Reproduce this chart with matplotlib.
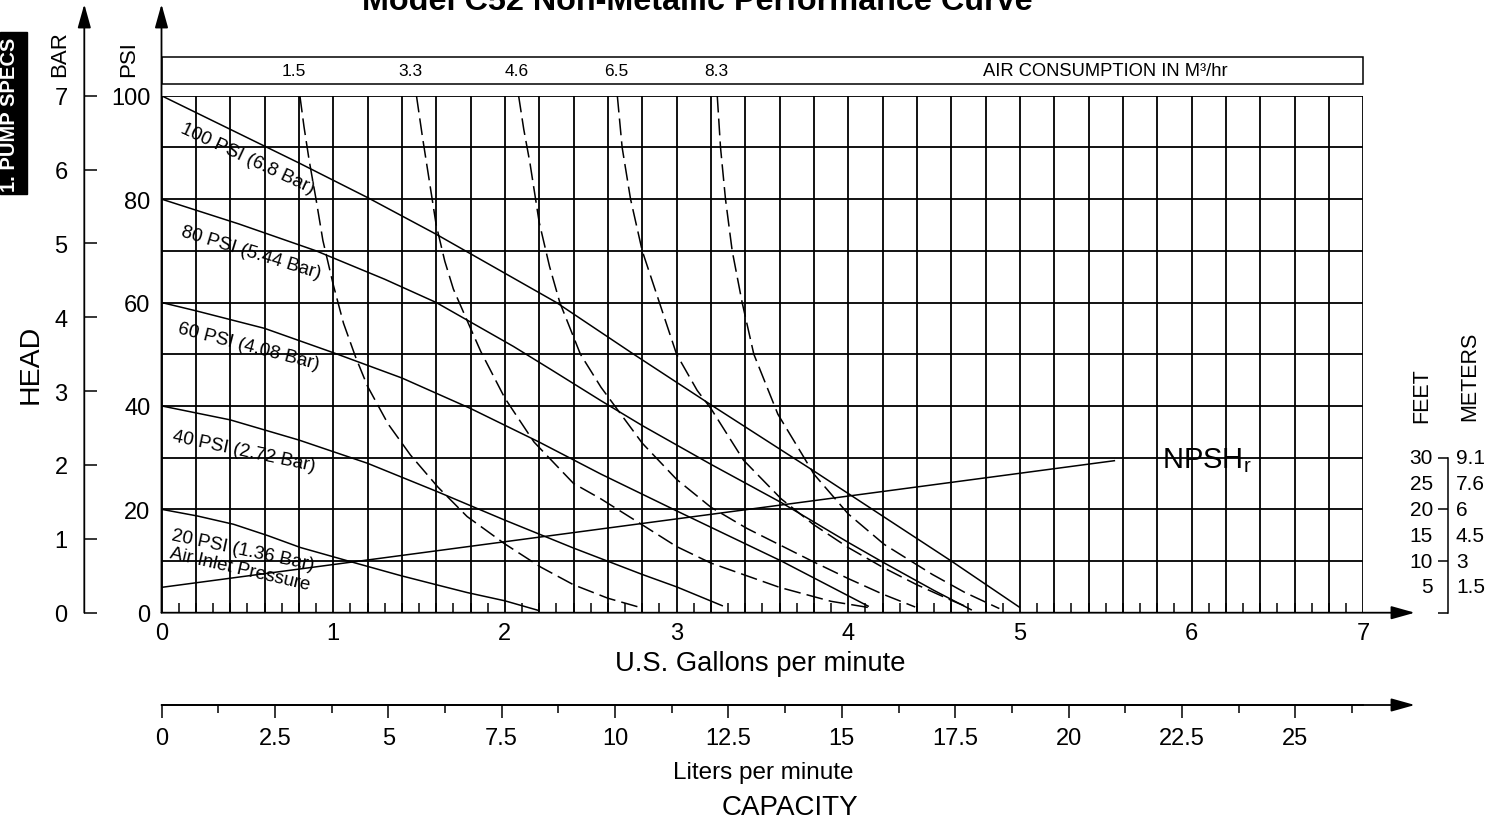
import numpy as np
import matplotlib.pyplot as plt
import matplotlib.transforms as mtransforms
from matplotlib.patches import Rectangle

plt.rcParams['font.family'] = ['Liberation Sans', 'DejaVu Sans']

# ---------------- data ----------------
gpm_ticks = [0, 1, 2, 3, 4, 5, 6, 7]
psi_ticks = [0, 20, 40, 60, 80, 100]
bar_ticks = [0, 1, 2, 3, 4, 5, 6, 7]
lpm_ticks = [0, 2.5, 5, 7.5, 10, 12.5, 15, 17.5, 20, 22.5, 25]
lpm_labels = ['0', '2.5', '5', '7.5', '10', '12.5', '15', '17.5', '20', '22.5', '25']
feet_ticks = [5, 10, 15, 20, 25, 30]
meter_labels = ['1.5', '3', '4.5', '6', '7.6', '9.1']

# air inlet pressure curves (U.S. gpm, head in psi)
p100_q = [0, 0.4, 0.8, 1.2, 1.6, 2.3, 2.75, 3.21, 3.8, 4.6, 5.0]
p100_h = [100, 93.5, 87, 80.3, 73.2, 60, 50, 40, 27.4, 10, 1.0]
p80_q = [0, 0.45, 0.9, 1.3, 1.6, 2.05, 2.27, 2.56, 2.8, 3.2, 3.61, 4.0, 4.2, 4.5, 4.72]
p80_h = [80, 75.2, 70, 64.5, 60, 51.5, 47, 41, 36.2, 28.7, 21.3, 13.6, 9.8, 4.3, 0.5]
p60_q = [0, 0.2, 0.6, 1.0, 1.4, 1.8, 2.2, 2.56, 3.0, 3.61, 4.12]
p60_h = [60, 58.4, 55, 50.3, 45.4, 39.5, 33, 26.8, 19.7, 10, 1.2]
p40_q = [0, 0.4, 0.8, 1.2, 1.6, 2.0, 2.4, 2.8, 3.0, 3.27]
p40_h = [40, 37.3, 33.4, 28.9, 23.5, 17.9, 12.5, 7.4, 5.0, 1.3]
p20_q = [0, 0.21, 0.42, 0.62, 0.81, 1.12, 1.39, 1.59, 1.78, 2.0, 2.2]
p20_h = [20, 18.7, 17.1, 14.9, 12.6, 9.7, 7.2, 5.5, 3.9, 2.3, 0.4]

# air consumption curves, m3/hr (U.S. gpm, head in psi)
air_names = ['1.5', '3.3', '4.6', '6.5', '8.3']
air_label_q = [0.77, 1.45, 2.07, 2.65, 3.23]
a15_q = [0.806, 0.83, 0.86, 0.90, 0.94, 1.0, 1.06, 1.13, 1.2, 1.32, 1.45, 1.61, 1.78, 2.0, 2.21, 2.4, 2.6, 2.8]
a15_h = [100, 94, 87.5, 80, 72, 63.5, 56, 49.5, 43.8, 36.5, 30.5, 24.3, 18.6, 13.3, 8.8, 5.4, 2.8, 0.9]
a33_q = [1.485, 1.52, 1.553, 1.60, 1.65, 1.70, 1.80, 1.86, 2.0, 2.17, 2.4, 2.56, 2.8, 3.0, 3.2, 3.6, 3.9, 4.12]
a33_h = [100, 92, 85, 75, 68, 62.6, 55, 50.5, 41.5, 33, 25, 22, 17, 12.8, 9.6, 4.9, 2.2, 1.0]
a46_q = [2.08, 2.11, 2.146, 2.2, 2.26, 2.32, 2.44, 2.56, 2.8, 3.0, 3.2, 3.41, 3.8, 4.0, 4.2, 4.39]
a46_h = [100, 93.5, 87, 75.5, 67, 60, 50, 43.6, 32.8, 25.8, 20.4, 16.3, 9.8, 6.6, 3.6, 1.1]
a65_q = [2.655, 2.683, 2.732, 2.80, 2.89, 3.0, 3.12, 3.2, 3.39, 3.61, 3.8, 4.0, 4.2, 4.4, 4.6, 4.70]
a65_h = [100, 90, 80, 70, 61, 50, 43, 39.5, 29.5, 22, 17, 12.6, 8.8, 5.4, 2.4, 1.0]
a83_q = [3.237, 3.256, 3.285, 3.324, 3.382, 3.45, 3.59, 3.73, 3.80, 4.0, 4.21, 4.49, 4.68, 4.88]
a83_h = [100, 90, 80, 70, 60, 50, 38.4, 30.7, 26.8, 19.1, 13.2, 7.4, 3.9, 0.8]

# NPSHr line (gpm, feet)
npsh_q = [0, 5.55]
npsh_ft = [4.9, 29.4]

# ---------------- figure ----------------
W, H = 1498, 829
fig = plt.figure(figsize=(W / 100, H / 100), dpi=100)
px = mtransforms.Affine2D().scale(1 / W, -1 / H).translate(0, 1) + fig.transFigure

X0, X7 = 161.5, 1363.3   # pixel columns of 0 and 7 gpm
Y0, Y100 = 613.7, 96.7   # pixel rows of 0 and 100 psi
ax_h = (Y0 - Y100) / H

ax = fig.add_axes([X0 / W, 1 - Y0 / H, (X7 - X0) / W, ax_h])
ax.set_xlim(0, 7)
ax.set_ylim(0, 100)
ax.patch.set_visible(False)
for s in ax.spines.values():
    s.set_visible(False)

# grid
ax.vlines(np.arange(0, 7.01, 0.2), 0, 100, color='k', lw=1.3)
ax.hlines(np.arange(0, 100.1, 10), 0, 7, color='k', lw=1.3)

ax.set_xticks(gpm_ticks)
ax.set_xticks(np.arange(0, 7.01, 0.1), minor=True)
ax.tick_params(axis='x', which='major', length=0, pad=7, labelsize=17)
ax.tick_params(axis='x', which='minor', direction='in', length=7.5, width=1.1)
ax.set_yticks(psi_ticks)
ax.tick_params(axis='y', length=0, pad=8, labelsize=17)

arrow = dict(arrowstyle='-|>,head_length=1.0,head_width=0.28', mutation_scale=14.4,
             lw=1.3, color='k', shrinkA=0, shrinkB=0)
ax.annotate('', xy=(7.30, 0), xytext=(0, 0), arrowprops=arrow, annotation_clip=False)
ax.annotate('', xy=(0, 117.7), xytext=(0, 0), arrowprops=arrow, annotation_clip=False)

# air consumption band
ax.add_patch(Rectangle((0, 102.3), 7, 5.2, fill=False, lw=1.1, clip_on=False))
for name, q in zip(air_names, air_label_q):
    ax.text(q, 104.9, name, ha='center', va='center', fontsize=12.5)
ax.text(5.5, 104.9, 'AIR CONSUMPTION IN M³/hr', ha='center', va='center', fontsize=13.2)

# curves
for q, h in [(p100_q, p100_h), (p80_q, p80_h), (p60_q, p60_h), (p40_q, p40_h), (p20_q, p20_h)]:
    ax.plot(q, h, color='k', lw=1.1, solid_capstyle='butt')
for q, h in [(a15_q, a15_h), (a33_q, a33_h), (a46_q, a46_h), (a65_q, a65_h), (a83_q, a83_h)]:
    ax.plot(q, h, color='k', lw=1.1, linestyle=(0, (11, 4)))
ax.plot(npsh_q, npsh_ft, color='k', lw=1.1)

lab = dict(ha='center', va='center', fontsize=13.5, rotation_mode='anchor')
ax.text(0.50, 87.9, '100 PSI (6.8 Bar)', rotation=-25, **lab)
ax.text(0.52, 69.8, '80 PSI (5.44 Bar)', rotation=-17, **lab)
ax.text(0.51, 51.6, '60 PSI (4.08 Bar)', rotation=-14.5, **lab)
ax.text(0.48, 31.4, '40 PSI (2.72 Bar)', rotation=-12, **lab)
ax.text(0.475, 12.1, '20 PSI (1.36 Bar)', rotation=-12, **lab)
ax.text(0.455, 8.5, 'Air Inlet Pressure', rotation=-13, **lab)

# liters per minute axis
L = 3.78541
sec = ax.secondary_xaxis(-(706 - Y0) / (Y0 - Y100), functions=(lambda g: g * L, lambda l: l / L))
sec.set_xticks(lpm_ticks, labels=lpm_labels)
sec.set_xticks(np.arange(1.25, 27, 2.5), minor=True)
sec.spines['bottom'].set_linewidth(1.3)
sec.tick_params(which='major', length=9.5, width=1.1, pad=6, labelsize=17)
sec.tick_params(which='minor', length=6, width=1.1)
yl = (Y0 - 706) / ((Y0 - Y100) / 100)
ax.annotate('', xy=(7.30, yl), xytext=(0, yl), arrowprops=arrow, annotation_clip=False)

# BAR axis
bax = fig.add_axes([84.3 / W, 1 - Y0 / H, 0.0001, ax_h])
bax.set_ylim(0, 7)
bax.patch.set_visible(False)
for k in ['top', 'right', 'bottom', 'left']:
    bax.spines[k].set_visible(False)
bax.set_xticks([])
bax.set_yticks(bar_ticks)
bax.tick_params(axis='y', direction='in', length=9.5, width=1.1, pad=12, labelsize=17)
bax.annotate('', xy=(0, 7 * 117.7 / 100), xytext=(0, 0), arrowprops=arrow, annotation_clip=False)

# feet / meters scale for NPSHr
fax = fig.add_axes([1448 / W, 1 - Y0 / H, 0.0001, ax_h])
fax.set_ylim(0, 100)
fax.patch.set_visible(False)
for k in ['top', 'right', 'bottom']:
    fax.spines[k].set_visible(False)
fax.spines['left'].set_bounds(0, 30)
fax.spines['left'].set_linewidth(1.1)
fax.set_xticks([])
fax.set_yticks([0, 10, 20, 30])
fax.tick_params(axis='y', direction='out', length=7.5, width=1.1, labelleft=False)
tr = mtransforms.blended_transform_factory(px, ax.transData)
for f, m in zip(feet_ticks, meter_labels):
    fig.text(1433, f, str(f), transform=tr, ha='right', va='center', fontsize=15)
    fig.text(1456, f, m, transform=tr, ha='left', va='center', fontsize=15)

# labels in pixel positions
fig.text(697, 10, 'Model C52 Non-Metallic Performance Curve', transform=px,
         ha='center', va='baseline', fontsize=23.3, fontweight='bold')
fig.add_artist(Rectangle((0, 33), 27, 162, transform=px, color='k'))
fig.text(10, 115, '1. PUMP SPECS', transform=px, rotation=90, ha='center', va='center',
         color='white', fontsize=14.5, fontweight='bold')
fig.text(31, 364, 'HEAD', transform=px, rotation=90, ha='center', va='center', fontsize=20.5)
fig.text(60, 54.5, 'BAR', transform=px, rotation=90, ha='center', va='center', fontsize=16)
fig.text(128.5, 59.5, 'PSI', transform=px, rotation=90, ha='center', va='center', fontsize=16)
fig.text(760, 664, 'U.S. Gallons per minute', transform=px, ha='center', va='center', fontsize=19.7)
fig.text(763, 773, 'Liters per minute', transform=px, ha='center', va='center', fontsize=17.5)
fig.text(790, 808, 'CAPACITY', transform=px, ha='center', va='center', fontsize=20)
fig.text(1422, 396, 'FEET', transform=px, rotation=90, ha='center', va='center', fontsize=15.5)
fig.text(1470, 376, 'METERS', transform=px, rotation=90, ha='center', va='center', fontsize=15.5)
fig.text(1162, 461, r'NPSH$_\mathregular{r}$', transform=px, ha='left', va='center', fontsize=21)

fig.savefig('out.png', dpi=100)
